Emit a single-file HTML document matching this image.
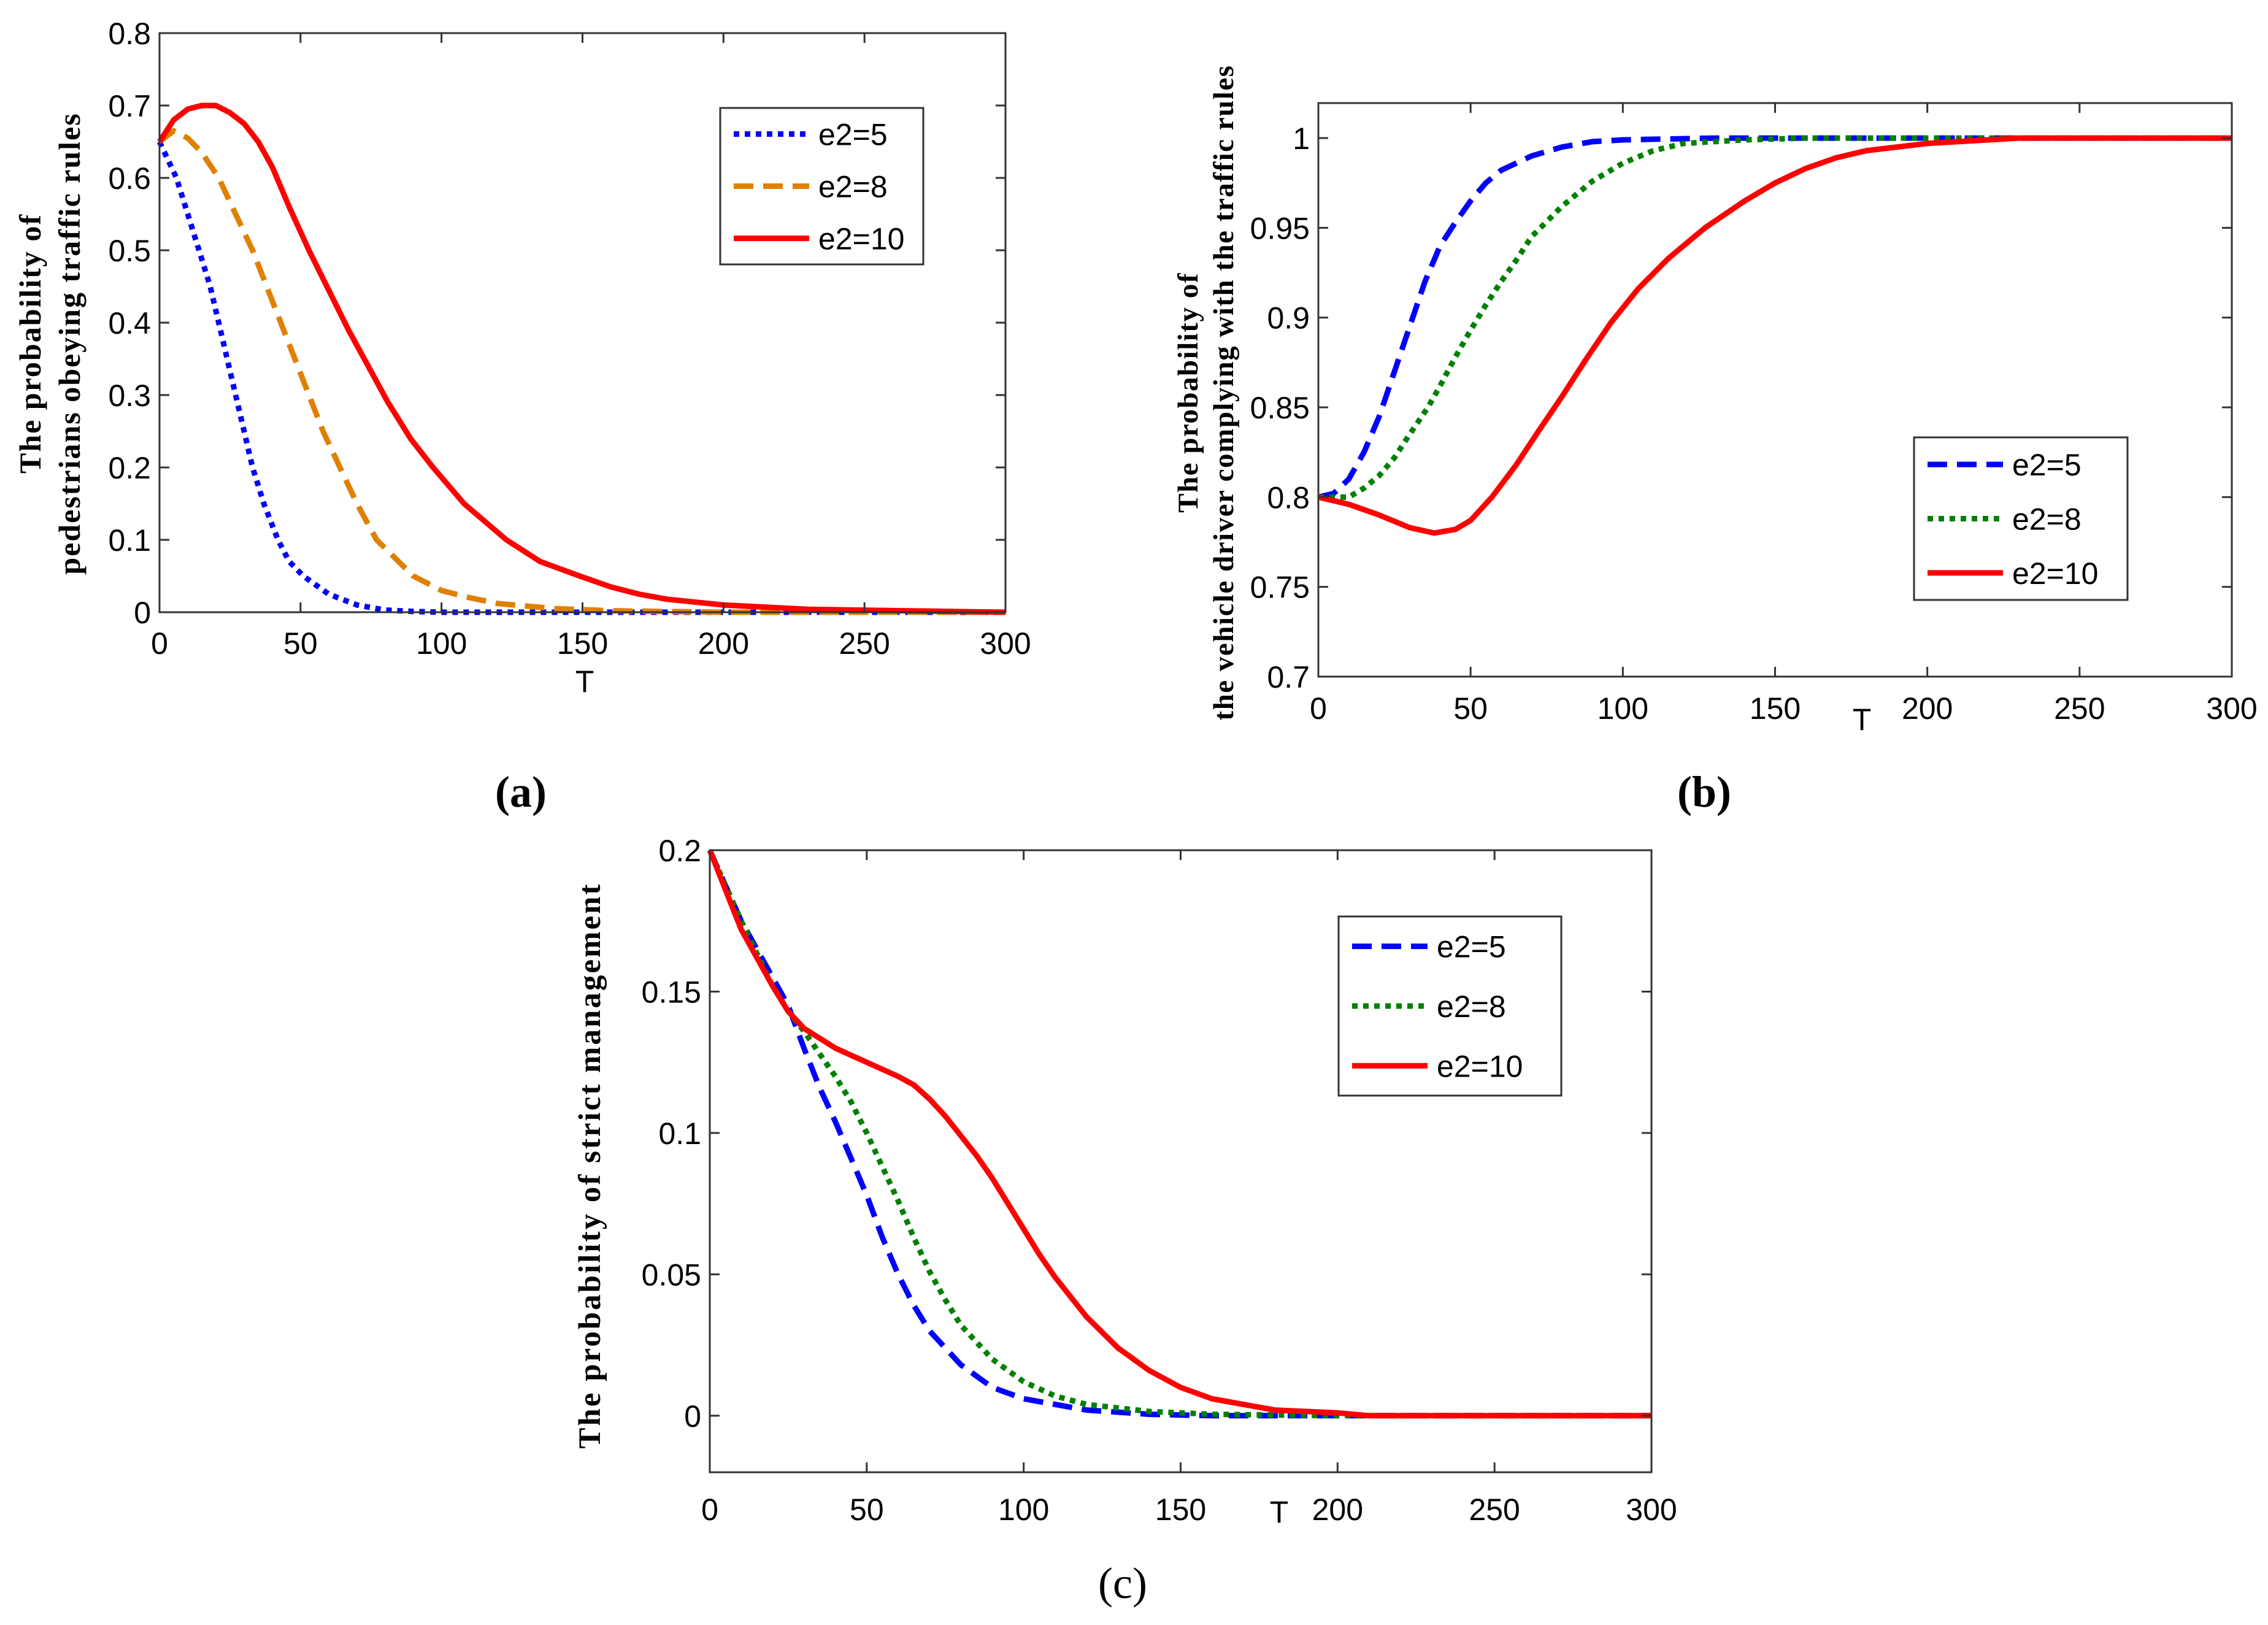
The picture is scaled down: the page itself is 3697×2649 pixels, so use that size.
<!DOCTYPE html>
<html><head><meta charset="utf-8"><style>
html,body{margin:0;padding:0;background:#fff}
svg{display:block}
.tk{font-family:"Liberation Sans Narrow","Liberation Sans",sans-serif;font-size:50px;fill:#000}
.yl{font-family:"Liberation Serif",serif;font-weight:bold;fill:#000}
.lg{font-family:"Liberation Sans Narrow","Liberation Sans",sans-serif;font-size:50px;fill:#000}
.cap{font-family:"Liberation Serif",serif;font-size:72px;fill:#000}
</style></head><body>
<svg id="fig" width="3697" height="2649" viewBox="0 0 3697 2649" xmlns="http://www.w3.org/2000/svg"></svg>
<script>
// ---- Panel (a) data ----
const aX5=[0,6,10,14,18,21,24,27,30,33,37,42,46,51,60,70,80,90,100,300];
const aY5=[0.65,0.6,0.55,0.5,0.45,0.4,0.35,0.3,0.25,0.2,0.15,0.1,0.07,0.05,0.025,0.01,0.003,0.001,0,0];
const aX8=[0,5,10,15,21,27,33,38,43,48,53,58,64,70,77,90,100,110,120,140,160,200,300];
const aY8=[0.65,0.665,0.655,0.635,0.6,0.55,0.5,0.45,0.4,0.35,0.3,0.25,0.2,0.15,0.1,0.05,0.03,0.02,0.012,0.005,0.002,0,0];
const aX10=[0,5,10,15,20,25,30,35,40,46,53,60,67,74,81,89,97,108,123,135,149,160,170,180,200,230,300];
const aY10=[0.65,0.68,0.695,0.7,0.7,0.69,0.675,0.65,0.615,0.56,0.5,0.445,0.39,0.34,0.29,0.24,0.2,0.15,0.1,0.07,0.05,0.035,0.025,0.018,0.01,0.004,0];
const aYTicks=[0,0.1,0.2,0.3,0.4,0.5,0.6,0.7,0.8];
const aYTickLabels=["0","0.1","0.2","0.3","0.4","0.5","0.6","0.7","0.8"];
// ---- Panel (b) data ----
const bX5=[0,5,10,15,20,25,30,35,40,45,50,55,60,70,80,90,100,130,300];
const bY5=[0.8,0.802,0.81,0.825,0.845,0.87,0.895,0.92,0.94,0.953,0.965,0.975,0.982,0.99,0.995,0.998,0.999,1,1];
const bX8=[0,10,15,20,25,30,36,40,45,50,55,60,65,70,80,90,100,110,120,140,160,300];
const bY8=[0.8,0.8,0.805,0.812,0.822,0.835,0.85,0.862,0.878,0.893,0.907,0.92,0.932,0.945,0.962,0.976,0.986,0.993,0.997,0.999,1,1];
const bX10=[0,10,20,30,38,45,50,57,65,72,80,88,96,105,115,127,140,150,160,170,180,200,220,230,300];
const bY10=[0.8,0.796,0.79,0.783,0.78,0.782,0.787,0.8,0.818,0.836,0.856,0.877,0.897,0.916,0.933,0.95,0.965,0.975,0.983,0.989,0.993,0.997,0.999,1,1];
const bYTicks=[0.7,0.75,0.8,0.85,0.9,0.95,1];
const bYTickLabels=["0.7","0.75","0.8","0.85","0.9","0.95","1"];
// ---- Panel (c) data ----
const cX5=[0,10,20,25,30,35,40,45,50,55,60,65,70,80,90,100,120,140,160,300];
const cY5=[0.2,0.175,0.155,0.145,0.13,0.116,0.104,0.091,0.078,0.063,0.05,0.039,0.03,0.018,0.01,0.006,0.002,0.0005,0,0];
const cX8=[0,10,20,25,30,35,40,45,50,55,60,65,70,75,80,90,100,110,120,140,160,200,300];
const cY8=[0.2,0.175,0.152,0.143,0.136,0.128,0.12,0.111,0.1,0.088,0.076,0.063,0.051,0.041,0.032,0.02,0.012,0.007,0.004,0.0015,0.0005,0,0];
const cX10=[0,10,20,25,30,40,50,60,65,70,75,80,85,90,95,100,105,110,115,120,130,140,150,160,180,200,210,300];
const cY10=[0.2,0.172,0.152,0.143,0.137,0.13,0.125,0.12,0.117,0.112,0.106,0.099,0.092,0.084,0.075,0.066,0.057,0.049,0.042,0.035,0.024,0.016,0.01,0.006,0.002,0.001,0,0];
const cYTicks=[0,0.05,0.1,0.15,0.2];
const cYTickLabels=["0","0.05","0.1","0.15","0.2"];
const xTicks=[0,50,100,150,200,250,300];
const xTickLabels=["0","50","100","150","200","250","300"];
const legendLabels=["e2=5","e2=8","e2=10"];

const NS="http://www.w3.org/2000/svg";
const fig=document.getElementById('fig');
function mk(tag,attrs,parent){const e=document.createElementNS(NS,tag);for(const k in attrs)e.setAttribute(k,attrs[k]);(parent||fig).appendChild(e);return e;}

function panel(p){
  const g=mk('g',{});
  
  
  const sx=v=>p.L+(v-0)/(300-0)*(p.R-p.L);
  const sy=v=>p.B+(v-p.ymin)/(p.ymax-p.ymin)*(p.T-p.B);
  p.series.forEach((s,i)=>{
    const d=s.x.map((x,j)=>(j?'L':'M')+sx(x).toFixed(1)+' '+sy(s.y[j]).toFixed(1)).join(' ');
    const path=mk('path',{d:d,fill:'none',stroke:s.color,'stroke-width':s.w,'stroke-dasharray':s.dash||'none','stroke-linejoin':'round'},g);
    
    
  });
  const box=mk('rect',{x:p.L,y:p.T,width:p.R-p.L,height:p.B-p.T,fill:'none',stroke:'#333','stroke-width':3},g);
  
  
  xTicks.forEach((v,i)=>{
    const x=sx(v);
    mk('line',{x1:x,x2:x,y1:p.B,y2:p.B-16,stroke:'#333','stroke-width':3},g);
    mk('line',{x1:x,x2:x,y1:p.T,y2:p.T+16,stroke:'#333','stroke-width':3},g);
    const t=mk('text',{x:x,y:p.xly,'text-anchor':'middle',class:'tk'},g);
    t.textContent=xTickLabels[i];
    
    
  });
  p.yt.forEach((v,i)=>{
    const y=sy(v);
    mk('line',{x1:p.L,x2:p.L+16,y1:y,y2:y,stroke:'#333','stroke-width':3},g);
    mk('line',{x1:p.R,x2:p.R-16,y1:y,y2:y,stroke:'#333','stroke-width':3},g);
    const t=mk('text',{x:p.L-14,y:y+18,'text-anchor':'end',class:'tk'},g);
    t.textContent=p.ytl[i];
    
    
  });
  const xt=mk('text',{x:p.Tx,y:p.Ty,'text-anchor':'middle',class:'tk'},g);
  xt.textContent='T';
  
  
  p.ylab.forEach((ln,i)=>{
    const t=mk('text',{x:0,y:0,'text-anchor':'middle',class:'yl','font-size':p.ylfs,'letter-spacing':p.ylls,transform:'translate('+p.ylx[i]+','+p.yly+') rotate(-90)'},g);
    t.textContent=ln;
    
    
  });
  const lg=mk('g',{},g);
  
  
  const Lb=p.leg;
  mk('rect',{x:Lb[0],y:Lb[1],width:Lb[2]-Lb[0],height:Lb[3]-Lb[1],fill:'#fff',stroke:'#333','stroke-width':3},lg);
  const rowH=(Lb[3]-Lb[1])/3;
  p.series.forEach((s,i)=>{
    const cy=Lb[1]+rowH*(i+0.5);
    const e=mk('g',{},lg);
    
    
    mk('line',{x1:Lb[0]+22,x2:Lb[0]+145,y1:cy,y2:cy,stroke:s.color,'stroke-width':s.w,'stroke-dasharray':s.dash||'none'},e);
    const t=mk('text',{x:Lb[0]+160,y:cy+18,class:'lg'},e);
    t.textContent=legendLabels[i];
  });
  const c=mk('text',{x:p.cap[0],y:p.cap[1],'text-anchor':'middle',class:'cap','font-weight':p.capBold?'bold':'normal'},g);
  c.textContent=p.cap[2];
  
  
}
const DOT='9 9', DASH='32 16';
panel({name:'chart-a',L:260,R:1639,T:54,B:998,ymin:0,ymax:0.8,yt:aYTicks,ytl:aYTickLabels,xly:1066,Tx:953,Ty:1128,
  ylab:['The probability of','pedestrians obeying traffic rules'],ylx:[66,130],yly:560,ylfs:50,ylls:2,
  leg:[1174,176,1505,431],cap:[849,1315,'(a)'],capBold:true,
  series:[{x:aX5,y:aY5,color:'#0000ff',w:9,dash:DOT,label:'e2=5'},{x:aX8,y:aY8,color:'#e08000',w:9,dash:DASH,label:'e2=8'},{x:aX10,y:aY10,color:'#ff0000',w:9,label:'e2=10'}]});
panel({name:'chart-b',L:2149,R:3638,T:168,B:1103,ymin:0.7,ymax:1.0195,yt:bYTicks,ytl:bYTickLabels,xly:1172,Tx:3035,Ty:1190,
  ylab:['The probability of','the vehicle driver complying with the traffic rules'],ylx:[1952,2010],yly:640,ylfs:47,ylls:1.5,
  leg:[3120,713,3468,978],cap:[2778,1315,'(b)'],capBold:true,
  series:[{x:bX5,y:bY5,color:'#0000ff',w:9,dash:DASH,label:'e2=5'},{x:bX8,y:bY8,color:'#008000',w:9,dash:DOT,label:'e2=8'},{x:bX10,y:bY10,color:'#ff0000',w:9,label:'e2=10'}]});
panel({name:'chart-c',L:1157,R:2692,T:1386,B:2400,ymin:-0.02,ymax:0.2,yt:cYTicks,ytl:cYTickLabels,xly:2478,Tx:2085,Ty:2482,
  ylab:['The probability of strict management'],ylx:[978],yly:1900,ylfs:51,ylls:3,
  leg:[2182,1494,2545,1786],cap:[1830,2605,'(c)'],capBold:false,
  series:[{x:cX5,y:cY5,color:'#0000ff',w:9,dash:DASH,label:'e2=5'},{x:cX8,y:cY8,color:'#008000',w:9,dash:DOT,label:'e2=8'},{x:cX10,y:cY10,color:'#ff0000',w:9,label:'e2=10'}]});
</script>
</body></html>
